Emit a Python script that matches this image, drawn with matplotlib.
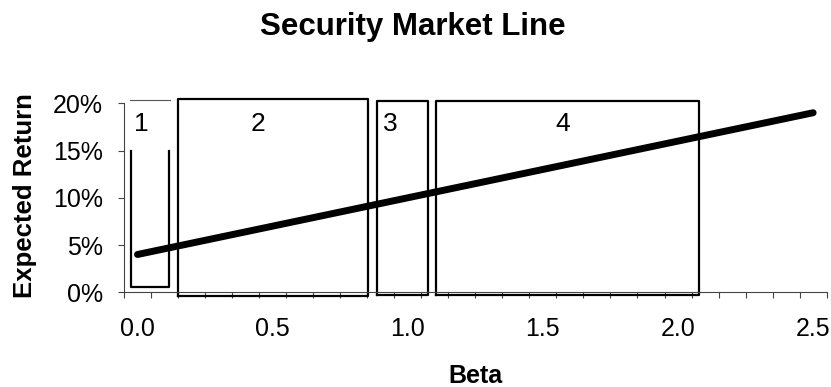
import matplotlib.pyplot as plt
from matplotlib.ticker import FixedLocator, PercentFormatter

plt.rcParams['font.family'] = ['Liberation Sans', 'DejaVu Sans']

betas = [0.0, 0.1, 0.2, 0.3, 0.4, 0.5, 0.6, 0.7, 0.8, 0.9, 1.0, 1.1, 1.2,
         1.3, 1.4, 1.5, 1.6, 1.7, 1.8, 1.9, 2.0, 2.1, 2.2, 2.3, 2.4, 2.5]
expected_returns = [4.0, 4.6, 5.2, 5.8, 6.4, 7.0, 7.6, 8.2, 8.8, 9.4, 10.0, 10.6, 11.2,
                    11.8, 12.4, 13.0, 13.6, 14.2, 14.8, 15.4, 16.0, 16.6, 17.2, 17.8, 18.4, 19.0]
x_labels = ['0.0', '0.5', '1.0', '1.5', '2.0', '2.5']
x_label_pos = [0.0, 0.5, 1.0, 1.5, 2.0, 2.5]
y_ticks = [0, 5, 10, 15, 20]

# region boxes: (label, left beta, right beta, bottom %, top %)
region_names = ['1', '2', '3', '4']
region_left = [-0.024, 0.151, 0.885, 1.103]
region_right = [0.118, 0.852, 1.074, 2.078]
region_bottom = [0.53, -0.36, -0.29, -0.29]
region_top = [15.0, 20.45, 20.24, 20.24]
region_label_x = [0.015, 0.445, 0.937, 1.575]

fig = plt.figure(figsize=(8.31, 3.87), dpi=100)
ax = fig.add_axes([0.1492, 0.2447, 0.9948 - 0.1492, 0.7331 - 0.2447])

ax.plot(betas, expected_returns, color='black', linewidth=5, solid_capstyle='round', zorder=3)

for i in range(len(region_names)):
    l, r, b, t = region_left[i], region_right[i], region_bottom[i], region_top[i]
    if i == 0:
        # region 1 is an open cup with a thin line above it
        ax.plot([l, l, r, r], [t, b, b, t], color='black', linewidth=1.6,
                clip_on=False, zorder=2)
        ax.plot([l - 0.004, r + 0.004], [20.3, 20.3], color='#555555', linewidth=0.8,
                clip_on=False, zorder=2)
    else:
        ax.plot([l, l, r, r, l], [b, t, t, b, b], color='black', linewidth=1.6,
                clip_on=False, zorder=2)
    ax.text(region_label_x[i], 17.8, region_names[i], fontsize=19, ha='center', va='center')

ax.set_xlim(-0.05, 2.55)
ax.set_ylim(0, 20)

ax.spines['top'].set_visible(False)
ax.spines['right'].set_visible(False)
ax.spines['left'].set_color('#444444')
ax.spines['bottom'].set_color('#444444')
ax.spines['left'].set_linewidth(0.8)
ax.spines['bottom'].set_linewidth(0.8)

ax.set_xticks(x_label_pos)
ax.set_xticklabels(x_labels, fontsize=18)
ax.xaxis.set_minor_locator(FixedLocator([-0.05 + 0.1 * k for k in range(27)]))
ax.tick_params(axis='x', which='major', length=0, pad=18)
ax.tick_params(axis='x', which='minor', length=4.5, width=0.8, color='#444444', direction='out')

ax.set_yticks(y_ticks)
ax.yaxis.set_major_formatter(PercentFormatter(decimals=0))
ax.tick_params(axis='y', which='major', length=4, width=0.8, color='#444444', labelsize=18, pad=11)

fig.text(0.4970, 1 - 35 / 387, 'Security Market Line', fontsize=22.5, fontweight='bold',
         ha='center', va='baseline')
fig.text(0.5716, 1 - 383 / 387, 'Beta', fontsize=18, fontweight='bold', ha='center', va='baseline')
fig.text(25 / 831, 1 - 196 / 387, 'Expected Return', fontsize=18.5, fontweight='bold',
         rotation=90, ha='center', va='center')

plt.savefig('out.png', dpi=100)
